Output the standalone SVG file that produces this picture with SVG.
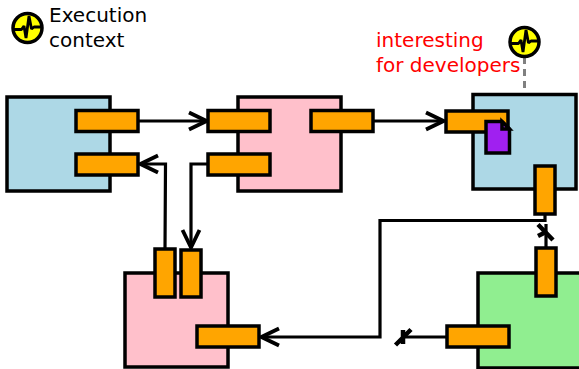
<svg xmlns="http://www.w3.org/2000/svg" width="579" height="369" viewBox="0 0 579 369">
<style>
.b{stroke:#000;stroke-width:3.500}
.blue{fill:#add8e6}.pink{fill:#ffc0cb}.green{fill:#90ee90}.port{fill:#ffa500}
.c{fill:none;stroke:#000;stroke-width:3.200}
.x{fill:none;stroke:#000;stroke-width:4.500}
.t{font-family:"DejaVu Sans",sans-serif;font-size:20px}
.icon{fill:#ff0;stroke:#000;stroke-width:3.500}
.pulse{fill:none;stroke:#000;stroke-width:2.800;stroke-linejoin:bevel}
</style>
<defs>
<marker id="arrow" viewBox="0 0 22 22" refX="20" refY="11" markerWidth="22" markerHeight="22" markerUnits="userSpaceOnUse" orient="auto"><path d="M2 2.500L19.500 11L2 19.500" fill="none" stroke="#000" stroke-width="3.800"/></marker>
<g id="ic"><circle class="icon" r="14.500"/><path class="pulse" d="M-14 1.500H-6L-3.500 -2L-1.500 10L1.500 -12L4 1L6.500 -1H14"/></g>
</defs>
<g id="connectors">
<path class="c" d="M138 121H207" marker-end="url(#arrow)"/>
<path class="c" d="M373 121H444" marker-end="url(#arrow)"/>
<path class="c" d="M208 164H191V248" marker-end="url(#arrow)"/>
<path class="c" d="M165 249L165.500 164H140" marker-end="url(#arrow)"/>
<path class="c" d="M545 214V220.500H380V337H261" marker-end="url(#arrow)"/>
<path class="c" d="M546 248V224"/><path class="x" d="M538 224.500L553 240M538 236L546 232"/>
<path class="c" d="M447 337H404"/><path class="x" d="M395.500 345L411 329.500M403 330V344"/>
<path d="M524.500 57V94" fill="none" stroke="#808080" stroke-width="3" stroke-dasharray="7 5"/>
</g>
<g id="legend-icon"><use href="#ic" x="27.500" y="28"/></g>
<g id="legend-text"><text class="t" x="49" y="22">Execution</text><text class="t" x="49" y="47">context</text></g>
<g id="note"><text class="t" x="376" y="47" fill="#f00">interesting</text><text class="t" x="376" y="72" fill="#f00">for developers</text></g>
<g id="note-icon"><use href="#ic" x="524.500" y="42"/></g>
<g id="node-a">
<rect class="b blue" x="7" y="97" width="103" height="94"/>
<rect class="b port" x="76" y="110.500" width="62" height="21"/>
<rect class="b port" x="76" y="154" width="62" height="21"/>
</g>
<g id="node-b">
<rect class="b pink" x="238" y="97" width="103" height="94"/>
<rect class="b port" x="208" y="110.500" width="62" height="21"/>
<rect class="b port" x="208" y="154" width="62" height="21"/>
<rect class="b port" x="311" y="110.500" width="62" height="21"/>
</g>
<g id="node-c">
<rect class="b blue" x="473" y="94.500" width="103" height="94.500"/>
<rect class="b port" x="446" y="111" width="62" height="21"/>
<path class="b" fill="#a020f0" d="M486 121.500H502L509.500 129V153H486Z"/>
<path class="b" fill="#a020f0" d="M502 121.500L509.500 129H502Z"/>
<rect class="b port" x="535" y="166" width="20" height="48"/>
</g>
<g id="node-d">
<rect class="b green" x="478" y="273" width="104" height="95"/>
<rect class="b port" x="536" y="248" width="20" height="48"/>
<rect class="b port" x="447" y="326" width="62" height="21"/>
</g>
<g id="node-e">
<rect class="b pink" x="125" y="273" width="103" height="94"/>
<rect class="b port" x="155" y="249" width="20" height="48"/>
<rect class="b port" x="181" y="250" width="20" height="47"/>
<rect class="b port" x="197" y="326" width="62" height="21"/>
</g>
</svg>
